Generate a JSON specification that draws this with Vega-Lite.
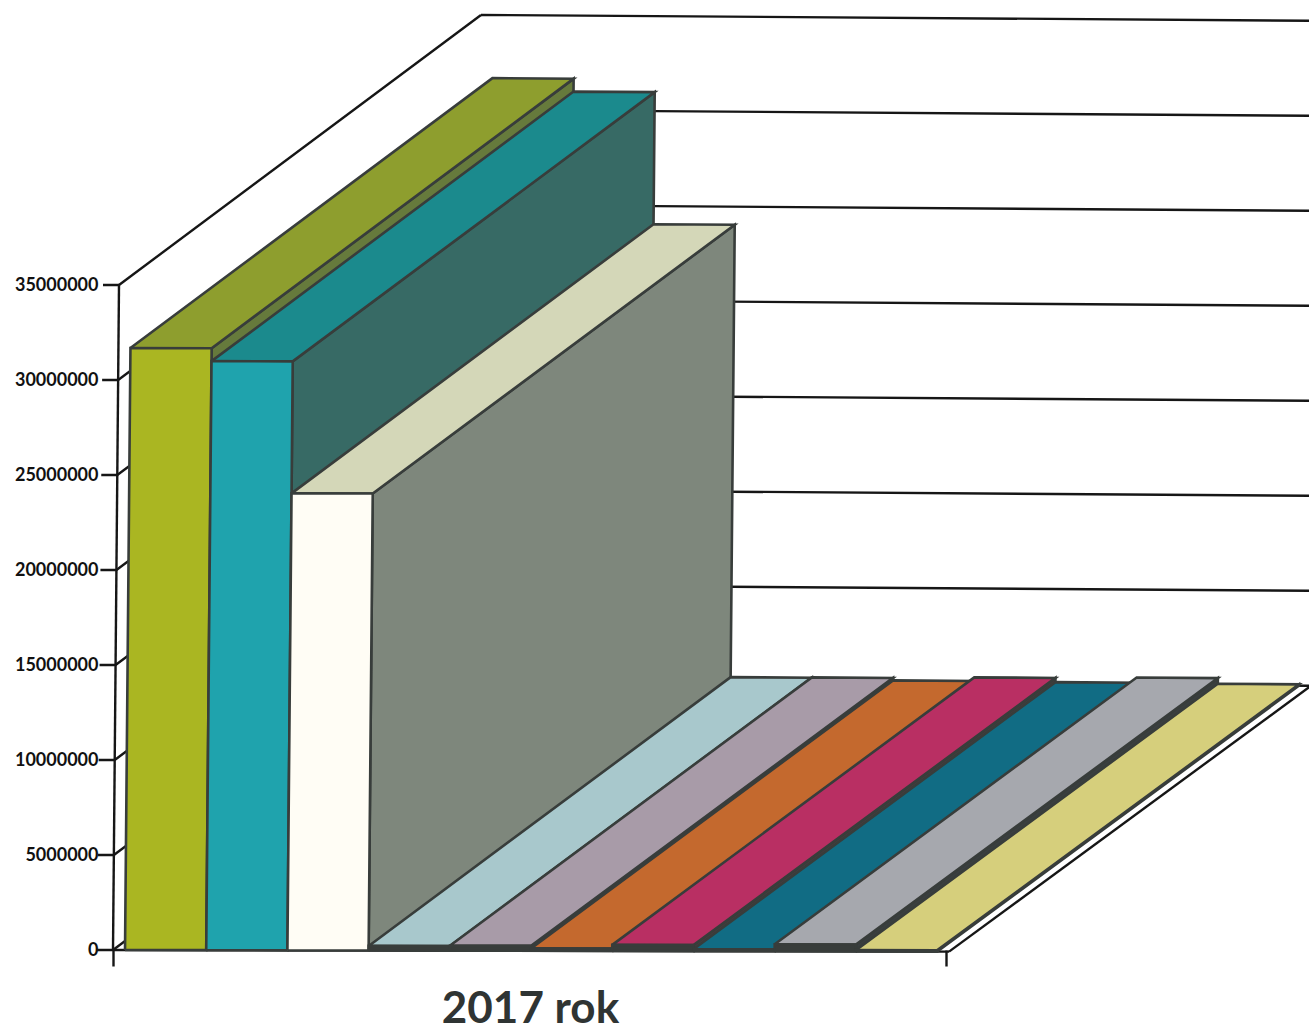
{
  "$schema": "https://vega.github.io/schema/vega-lite/v6.json",
  "autosize": {"type": "none"},
  "padding": {"left": 113, "top": 0, "right": 0, "bottom": 81},
  "width": 1196,
  "height": 950,
  "background": "#ffffff",
  "datasets": {
    "ticks": [
      {"value": 0}, {"value": 5000000}, {"value": 10000000}, {"value": 15000000},
      {"value": 20000000}, {"value": 25000000}, {"value": 30000000}, {"value": 35000000}
    ],
    "bars": [
      {"series": 1, "value": 31680000},
      {"series": 2, "value": 31000000},
      {"series": 3, "value": 24050000},
      {"series": 4, "value": 240000},
      {"series": 5, "value": 260000},
      {"series": 6, "value": 130000},
      {"series": 7, "value": 320000},
      {"series": 8, "value": 100000},
      {"series": 9, "value": 370000},
      {"series": 10, "value": 70000}
    ]
  },
  "layer": [
    {
      "data": {"name": "ticks"},
      "transform": [
        {"calculate": "datum.value === 0 ? ['left','back','tick','front','right'] : datum.value === 35000000 ? ['left','back','tick','axis'] : ['left','back','tick']", "as": "edge"},
        {"flatten": ["edge"]},
        {"calculate": "datum.edge === 'tick' ? -0.345 : -0.148", "as": "p1"},
        {"calculate": "datum.edge === 'back' || datum.edge === 'front' ? 10.148 : datum.edge === 'right' ? 10.148 : -0.148", "as": "p2"},
        {"calculate": "datum.edge === 'right' ? 10.148 : datum.p1", "as": "p1"},
        {"calculate": "datum.edge === 'back' ? 1 : 0", "as": "t1"},
        {"calculate": "datum.edge === 'back' || datum.edge === 'left' || datum.edge === 'right' ? 1 : 0", "as": "t2"},
        {"calculate": "datum.edge === 'axis' ? 0 : datum.value", "as": "v1"},
        {"calculate": "datum.p1 + datum.t1 * 4.458 + 2.11e-9 * datum.v1", "as": "x1"},
        {"calculate": "datum.p2 + datum.t2 * 4.458 + 2.11e-9 * datum.value", "as": "x2"},
        {"calculate": "datum.v1 + datum.t1 * 14210000 - datum.p1 * (8547 + 21368 * datum.t1)", "as": "y1"},
        {"calculate": "datum.value + datum.t2 * 14210000 - datum.p2 * (8547 + 21368 * datum.t2)", "as": "y2"}
      ],
      "mark": {"type": "rule", "stroke": "#161616", "strokeWidth": 2.4, "clip": false},
      "encoding": {
        "x": {
          "field": "x1", "type": "quantitative",
          "scale": {"domain": [-0.148, 14.581], "nice": false, "zero": false},
          "axis": {
            "values": [-0.148, 10.106],
            "labels": false,
            "grid": false,
            "domain": false,
            "ticks": true,
            "tickSize": 16,
            "tickWidth": 2.4,
            "tickColor": "#161616",
            "title": "2017 rok",
            "titleFont": "Lato",
            "titleFontWeight": "bold",
            "titleFontSize": 44,
            "titleColor": "#2f3433",
            "titleX": 417,
            "titleY": 72,
            "titleAlign": "center",
            "titleBaseline": "alphabetic"
          }
        },
        "x2": {"field": "x2"},
        "y": {
          "field": "y1", "type": "quantitative",
          "scale": {"domain": [0, 50000000], "nice": false, "zero": false},
          "axis": {
            "values": [0, 5000000, 10000000, 15000000, 20000000, 25000000, 30000000, 35000000],
            "format": "d",
            "labelFont": "Lato",
            "labelFontWeight": "bold",
            "labelFontSize": 18,
            "labelColor": "#111111",
            "labelPadding": 15,
            "ticks": false,
            "domain": false,
            "grid": false,
            "title": null
          }
        },
        "y2": {"field": "y2"}
      }
    },
    {
      "data": {"name": "bars"},
      "transform": [
        {"calculate": "['side','top','front']", "as": "face"},
        {"flatten": ["face"]},
        {"calculate": "[0,1,2,3,4]", "as": "corner"},
        {"flatten": ["corner"]},
        {"calculate": "[0,0,1,1,0][datum.corner]", "as": "a"},
        {"calculate": "[0,1,1,0,0][datum.corner]", "as": "b"},
        {"calculate": "datum.face === 'side' ? 1 : datum.a", "as": "s"},
        {"calculate": "datum.face === 'side' ? datum.a : datum.face === 'top' ? datum.b : 0", "as": "t"},
        {"calculate": "datum.face === 'top' ? 1 : datum.b", "as": "h"},
        {"calculate": "datum.series - 1 + datum.s", "as": "p"},
        {"calculate": "datum.p + datum.t * 4.458 + 2.11e-9 * datum.h * datum.value", "as": "px"},
        {"calculate": "datum.h * datum.value + datum.t * 14210000 - datum.p * (8547 + 21368 * datum.t)", "as": "py"},
        {"calculate": "datum.series + '-' + datum.face", "as": "shade"}
      ],
      "mark": {"type": "line", "stroke": "#383d3b", "strokeWidth": 2.6, "strokeJoin": "miter", "clip": false},
      "encoding": {
        "x": {"field": "px", "type": "quantitative"},
        "y": {"field": "py", "type": "quantitative"},
        "order": {"field": "corner", "type": "quantitative"},
        "detail": {"field": "shade"},
        "fill": {
          "field": "shade", "type": "nominal", "legend": null,
          "scale": {
            "domain": [
              "1-front", "1-top", "1-side", "2-front", "2-top", "2-side", "3-front", "3-top", "3-side",
              "4-front", "4-top", "4-side", "5-front", "5-top", "5-side", "6-front", "6-top", "6-side",
              "7-front", "7-top", "7-side", "8-front", "8-top", "8-side", "9-front", "9-top", "9-side",
              "10-front", "10-top", "10-side"
            ],
            "range": [
              "#aab622", "#8e9e2e", "#667a3c", "#1fa3ad", "#1b8a8d", "#376a65", "#fffdf5", "#d4d7b8", "#7e877c",
              "#383d3b", "#a8c8cc", "#5f7478", "#383d3b", "#a89ba8", "#64585f", "#383d3b", "#c4692e", "#6f4326",
              "#383d3b", "#b92f63", "#4a3c3e", "#383d3b", "#116c84", "#1c4a58", "#383d3b", "#a6a8ae", "#3a3f40",
              "#383d3b", "#d6cf7c", "#5a5a30"
            ]
          }
        }
      }
    }
  ],
  "config": {"view": {"stroke": null}}
}
